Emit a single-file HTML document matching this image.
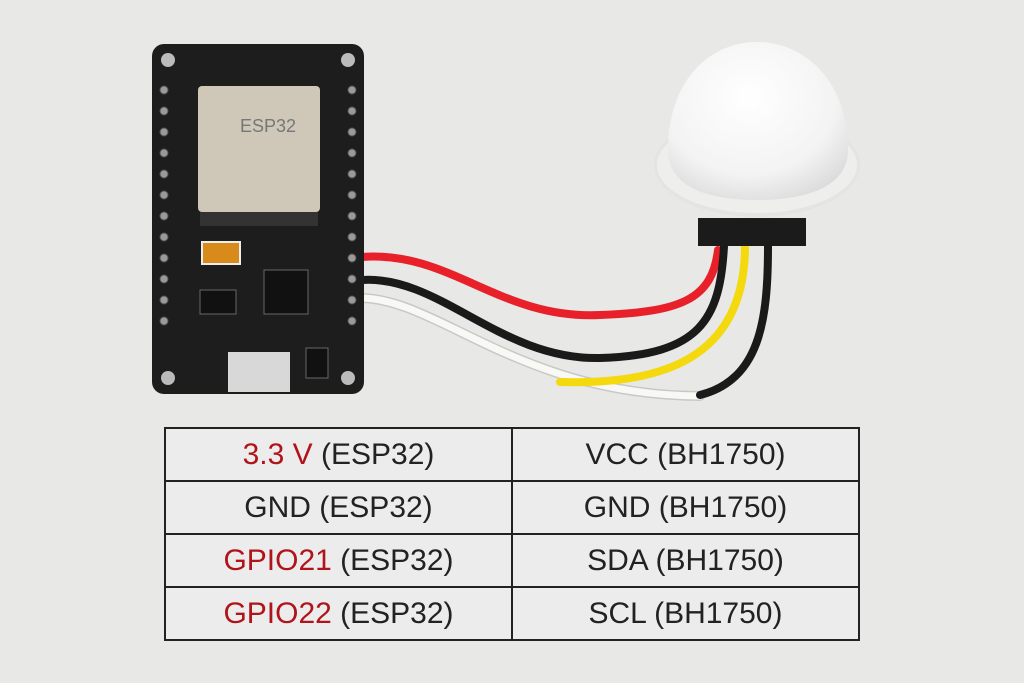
<!DOCTYPE html>
<html><head><style>
body{margin:0;width:1024px;height:683px;background:#e8e8e7;overflow:hidden;position:relative;font-family:"Liberation Sans",sans-serif}
table{position:absolute;left:164px;top:427px;width:696px;height:211px;border-collapse:collapse;background:#ececec}
td{border:2px solid #222;width:50%;text-align:center;font-size:30px;color:#222;height:51px;padding:0}
.r{color:#b0141a}
</style></head><body>
<svg width="1024" height="683" style="position:absolute;left:0;top:0">
<defs><radialGradient id="d" cx="0.45" cy="0.35" r="0.7"><stop offset="0" stop-color="#fff"/><stop offset="0.7" stop-color="#f3f3f3"/><stop offset="1" stop-color="#dcdcdc"/></radialGradient></defs>
<g fill="none" stroke-linecap="round">
<path d="M362,257 C450,250 500,320 600,315 C680,312 712,300 718,250" stroke="#e8202a" stroke-width="8"/>
<path d="M362,280 C440,275 500,360 600,358 C700,355 720,320 724,246" stroke="#1a1a1a" stroke-width="8"/>
<path d="M362,298 C440,300 520,395 700,396" stroke="#c8c8c4" stroke-width="10"/>
<path d="M362,298 C440,300 520,395 700,396" stroke="#f8f8f5" stroke-width="7"/>
<path d="M560,382 C660,385 745,360 745,246" stroke="#f5d90f" stroke-width="8"/>
<path d="M700,395 C760,380 768,320 768,246" stroke="#1a1a1a" stroke-width="8"/>
</g>
<rect x="698" y="218" width="108" height="28" fill="#1b1b1b"/>
<ellipse cx="757" cy="165" rx="103" ry="52" fill="#e4e4e2"/>
<ellipse cx="757" cy="165" rx="100" ry="48" fill="#eeeeec"/>
<path d="M668,150 C668,80 710,42 757,42 C804,42 848,80 848,150 C848,185 810,200 757,200 C704,200 668,185 668,150 Z" fill="url(#d)"/>
<rect x="152" y="44" width="212" height="350" rx="12" fill="#1d1d1d"/>
<g fill="#bbb">
<circle cx="168" cy="60" r="7"/><circle cx="348" cy="60" r="7"/><circle cx="168" cy="378" r="7"/><circle cx="348" cy="378" r="7"/>
</g>
<g fill="#9a9a9a" stroke="#555">
<circle cx="164" cy="90" r="4"/><circle cx="164" cy="111" r="4"/><circle cx="164" cy="132" r="4"/><circle cx="164" cy="153" r="4"/><circle cx="164" cy="174" r="4"/><circle cx="164" cy="195" r="4"/><circle cx="164" cy="216" r="4"/><circle cx="164" cy="237" r="4"/><circle cx="164" cy="258" r="4"/><circle cx="164" cy="279" r="4"/><circle cx="164" cy="300" r="4"/><circle cx="164" cy="321" r="4"/>
<circle cx="352" cy="90" r="4"/><circle cx="352" cy="111" r="4"/><circle cx="352" cy="132" r="4"/><circle cx="352" cy="153" r="4"/><circle cx="352" cy="174" r="4"/><circle cx="352" cy="195" r="4"/><circle cx="352" cy="216" r="4"/><circle cx="352" cy="237" r="4"/><circle cx="352" cy="258" r="4"/><circle cx="352" cy="279" r="4"/><circle cx="352" cy="300" r="4"/><circle cx="352" cy="321" r="4"/>
</g>
<rect x="198" y="86" width="122" height="126" rx="4" fill="#cfc8b8"/>
<text x="240" y="132" font-size="18" fill="#777" font-family="Liberation Sans">ESP32</text>
<rect x="200" y="212" width="118" height="14" fill="#333"/>
<rect x="202" y="242" width="38" height="22" fill="#d88a1a" stroke="#eee" stroke-width="2"/>
<rect x="264" y="270" width="44" height="44" fill="#111" stroke="#666"/>
<rect x="200" y="290" width="36" height="24" fill="#111" stroke="#666"/>
<rect x="228" y="352" width="62" height="40" fill="#d8d8d8"/>
<rect x="306" y="348" width="22" height="30" fill="#111" stroke="#666"/>
</svg>
<table>
<tr><td><span class="r">3.3 V</span> (ESP32)</td><td>VCC (BH1750)</td></tr>
<tr><td>GND (ESP32)</td><td>GND (BH1750)</td></tr>
<tr><td><span class="r">GPIO21</span> (ESP32)</td><td>SDA (BH1750)</td></tr>
<tr><td><span class="r">GPIO22</span> (ESP32)</td><td>SCL (BH1750)</td></tr>
</table>
</body></html>
